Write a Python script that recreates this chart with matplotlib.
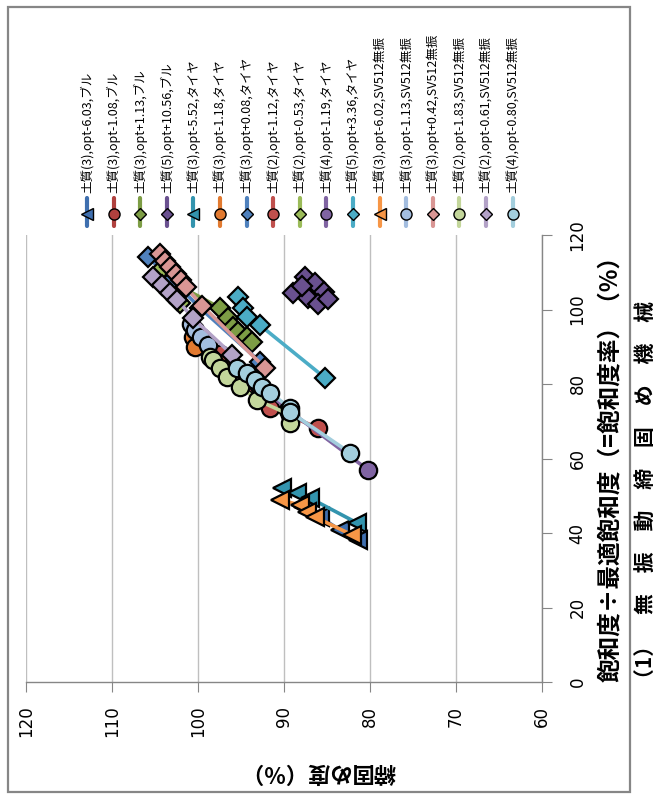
import matplotlib
matplotlib.use("Agg")
import matplotlib.pyplot as plt
from matplotlib.lines import Line2D
from matplotlib.patches import Rectangle

plt.rcParams["font.family"] = ["Noto Sans CJK JP", "DejaVu Sans"]

W, H, DPI = 662, 794, 100

# ---- series definitions ----
labels = [
    "土質(3),opt-6.03,ブル", "土質(3),opt-1.08,ブル", "土質(3),opt+1.13,ブル",
    "土質(5),opt+10.56,ブル", "土質(3),opt-5.52,タイヤ", "土質(3),opt-1.18,タイヤ",
    "土質(3),opt+0.08,タイヤ", "土質(2),opt-1.12,タイヤ", "土質(2),opt-0.53,タイヤ",
    "土質(4),opt-1.19,タイヤ", "土質(5),opt+3.36,タイヤ", "土質(3),opt-6.02,SV512無振",
    "土質(3),opt-1.13,SV512無振", "土質(3),opt+0.42,SV512無振", "土質(2),opt-1.83,SV512無振",
    "土質(2),opt-0.61,SV512無振", "土質(4),opt-0.80,SV512無振",
]
colors = [
    "#3F6FAF", "#B0413E", "#7D9D45", "#6A5190", "#3394AE", "#E27A30",
    "#4F81BD", "#C0504D", "#9BBB59", "#8064A2", "#4BACC6", "#F79646",
    "#A3BDDF", "#D99694", "#C3D69B", "#B3A2C7", "#A3CEDD",
]
markers = ["<", "o", "D", "D", "<", "o", "D", "o", "D", "o", "D", "<",
           "o", "D", "o", "D", "o"]

# 締固め度 (%) and 飽和度率 (%) per series
dc01 = [87.8, 85.8, 83.5, 81.4]
sr01 = [47.0, 44.3, 40.8, 38.1]
dc02 = [100.0, 96.5, 93.0]
sr02 = [91.0, 83.0, 76.0]
dc03 = [103.5, 97.4, 96.5, 95.9, 95.3, 94.3, 93.7]
sr03 = [108.0, 100.4, 97.7, 95.3, 94.0, 92.6, 91.3]
dc04 = [88.9, 87.6, 86.4, 85.4, 87.2, 86.0, 84.9, 87.9]
sr04 = [104.5, 108.6, 107.0, 104.8, 103.0, 101.4, 102.7, 106.2]
dc05 = [90.2, 88.5, 87.0, 81.5]
sr05 = [52.1, 50.7, 49.4, 42.7]
dc06 = [100.6, 100.3]
sr06 = [92.5, 90.0]
dc07 = [105.8, 103.0, 99.8, 92.8]
sr07 = [114.0, 108.0, 100.5, 86.0]
dc08 = [97.5, 93.5, 91.6, 86.0]
sr08 = [88.0, 80.0, 73.5, 68.2]
dc09 = [104.5, 102.1]
sr09 = [110.0, 101.7]
dc10 = [93.0, 89.5, 80.2]
sr10 = [80.0, 73.0, 56.9]
dc11 = [95.3, 94.8, 94.3, 92.8, 85.2]
sr11 = [103.4, 100.4, 98.0, 95.8, 81.6]
dc12 = [90.5, 88.1, 87.3, 86.4, 82.1]
sr12 = [48.9, 47.5, 45.6, 44.3, 39.5]
dc13 = [100.8, 100.3, 99.6, 98.8]
sr13 = [96.0, 94.5, 92.5, 90.5]
dc14 = [104.4, 103.8, 103.2, 102.6, 102.0, 101.4, 99.5, 92.2]
sr14 = [115.0, 113.0, 111.3, 109.5, 107.8, 106.0, 101.0, 84.3]
dc15 = [98.6, 98.3, 97.4, 96.6, 95.1, 93.1, 89.3, 89.3]
sr15 = [87.2, 86.4, 84.3, 81.9, 79.2, 75.7, 71.7, 69.5]
dc16 = [105.2, 104.2, 103.3, 102.4, 100.6, 96.0]
sr16 = [108.7, 106.5, 104.5, 102.6, 97.7, 87.8]
dc17 = [95.5, 94.3, 93.4, 92.6, 91.6, 89.3, 89.3, 82.3]
sr17 = [84.3, 83.0, 81.0, 79.2, 77.6, 73.6, 72.5, 61.5]

compaction = [dc01, dc02, dc03, dc04, dc05, dc06, dc07, dc08, dc09,
              dc10, dc11, dc12, dc13, dc14, dc15, dc16, dc17]
saturation = [sr01, sr02, sr03, sr04, sr05, sr06, sr07, sr08, sr09,
              sr10, sr11, sr12, sr13, sr14, sr15, sr16, sr17]

dc_ticks = [120, 110, 100, 90, 80, 70, 60]
sr_ticks = [0, 20, 40, 60, 80, 100, 120]

AXIS_GRAY = "#868686"
GRID_GRAY = "#BFBFBF"


def fx(px):
    return px / W


def fy(py):
    return 1 - py / H


fig = plt.figure(figsize=(W / DPI, H / DPI), dpi=DPI)

# outer chart frame
fig.patches.append(Rectangle((fx(8), fy(792)), fx(630) - fx(8), fy(7) - fy(792),
                             transform=fig.transFigure, fill=False,
                             edgecolor=AXIS_GRAY, linewidth=1.6))

# plot area (the chart is laid out turned a quarter turn)
ax = fig.add_axes([fx(26), fy(682), fx(542) - fx(26), fy(235) - fy(682)])
ax.set_xlim(120, 60)
ax.set_ylim(0, 120)
ax.set_xticks(dc_ticks)
ax.set_yticks(sr_ticks)

for sp in ("top", "left"):
    ax.spines[sp].set_visible(False)
for sp in ("right", "bottom"):
    ax.spines[sp].set_color(AXIS_GRAY)
    ax.spines[sp].set_linewidth(1.0)

ax.grid(axis="x", color=GRID_GRAY, linewidth=1.0)
ax.set_axisbelow(True)

ax.yaxis.tick_right()
ax.tick_params(axis="y", direction="out", length=7, color=AXIS_GRAY,
               labelsize=12, pad=12)
ax.tick_params(axis="x", direction="out", length=7, color=AXIS_GRAY,
               labelsize=12, pad=10)
for t in ax.get_yticklabels():
    t.set_rotation(90)
    t.set_va("center")
    t.set_ha("left")
    t.set_family("DejaVu Sans")
for t in ax.get_xticklabels():
    t.set_rotation(90)
    t.set_va("top")
    t.set_ha("center")
    t.set_family("DejaVu Sans")

for dc, sr, col, mk in zip(compaction, saturation, colors, markers):
    ms = {"o": 12.5, "D": 10.5, "<": 13}[mk]
    ax.plot(dc, sr, color=col, linewidth=2.6, marker=mk, markersize=ms,
            markerfacecolor=col, markeredgecolor="black", markeredgewidth=1.6,
            solid_capstyle="round", clip_on=False)

# axis titles
fig.text(fx(318), fy(772), "締固め度（%）", rotation=180, ha="center", va="center",
         fontsize=16, fontweight="bold")
fig.text(fx(610), fy(463), "飽和度÷最適飽和度（=飽和度率）（%）", rotation=90,
         ha="center", va="center", fontsize=17, fontweight="bold")
fig.text(fx(646), fy(495), "（1）　無　振　動　締　固　め　機　械", rotation=90,
         ha="center", va="center", fontsize=15, fontweight="bold")

# legend drawn as a row of upright entries
for i, (lab, col, mk) in enumerate(zip(labels, colors, markers)):
    x = 87 + i * 26.6
    fig.add_artist(Line2D([fx(x), fx(x)], [fy(198), fy(226)],
                          transform=fig.transFigure, color=col, linewidth=3,
                          solid_capstyle="round"))
    lms = {"o": 8, "D": 6.5, "<": 8}[mk]
    fig.add_artist(Line2D([fx(x)], [fy(214)], transform=fig.transFigure,
                          marker=mk, markersize=lms, markerfacecolor=col,
                          markeredgecolor="black", markeredgewidth=1.0,
                          linestyle="none"))
    fig.text(fx(x), fy(193), lab, rotation=90, ha="center", va="bottom",
             fontsize=9)

fig.savefig("out.png", dpi=DPI)
